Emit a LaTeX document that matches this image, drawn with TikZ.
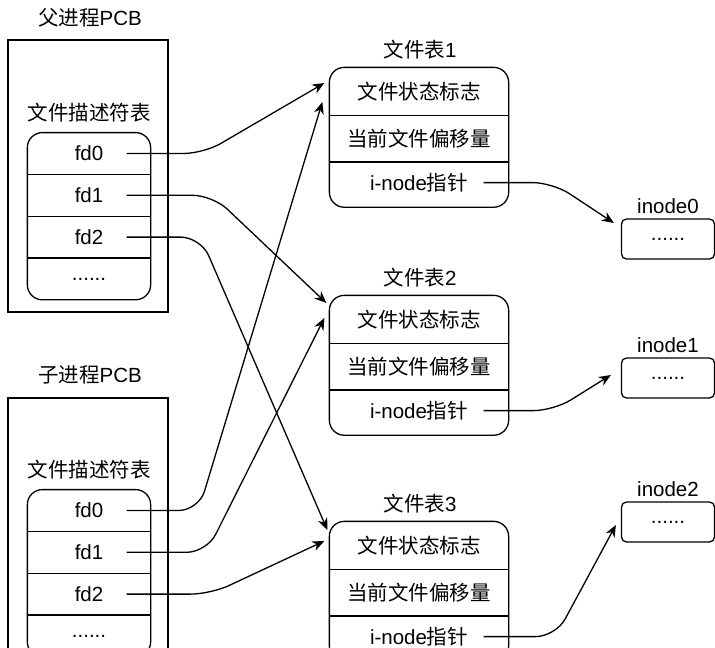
\documentclass[tikz,border=0pt]{standalone}
\usepackage{fontspec}
\setmainfont{Liberation Sans}
\newfontfamily\cjk{Noto Sans CJK SC}
\usetikzlibrary{positioning,arrows.meta}
\newcommand{\zh}[1]{{\cjk #1}}

\begin{document}
\begin{tikzpicture}[x=1pt, y=-1pt, line width=1.3pt,
    font=\fontsize{20.5}{24}\selectfont,
    pcbbox/.style={draw, minimum width=160pt, inner sep=0pt},
    fdrow/.style={minimum width=122pt, minimum height=40.5pt, inner sep=0pt},
    ftrow/.style={minimum width=178pt, inner sep=0pt},
    inodebox/.style={draw, rounded corners=5pt, minimum width=93pt, minimum height=40pt},
    link/.style={-{Stealth[length=12pt,width=10pt]}, rounded corners=20pt}]
    \useasboundingbox (0,0) rectangle (715,648);

    % Parent PCB
    \node[pcbbox, minimum height=272pt] (pcbp) at (88,176) {};
    \node (pcbplabel) at (90,18) {\zh{父进程}PCB};
    \node (fdtabp) at (89,113) {\zh{文件描述符表}};
    \node[fdrow] (fd0p) at (89,153.5) {fd0};
    \node[fdrow, below=0pt of fd0p] (fd1p) {fd1};
    \node[fdrow, below=0pt of fd1p] (fd2p) {fd2};
    \node[fdrow, below=0pt of fd2p] (fdxp) {......};
    \draw[rounded corners=15pt] (fd0p.north west) rectangle (fdxp.south east);
    \foreach \r in {fd0p,fd1p,fd2p}
        \draw (\r.south west) -- (\r.south east);

    % Child PCB
    \node[pcbbox, minimum height=302pt] (pcbc) at (88,549) {};
    \node (pcbclabel) at (90,375) {\zh{子进程}PCB};
    \node (fdtabc) at (89,470) {\zh{文件描述符表}};
    \node[fdrow] (fd0c) at (89,510.5) {fd0};
    \node[fdrow, below=0pt of fd0c] (fd1c) {fd1};
    \node[fdrow, below=0pt of fd1c] (fd2c) {fd2};
    \node[fdrow, below=0pt of fd2c] (fdxc) {......};
    \draw[rounded corners=15pt] (fd0c.north west) rectangle (fdxc.south east);
    \foreach \r in {fd0c,fd1c,fd2c}
        \draw (\r.south west) -- (\r.south east);

    % File tables
    \foreach \i/\y in {1/68, 2/296, 3/522} {
        \node (ftlabel\i) at (420,{\y-18}) {\zh{文件表}\i};
        \node[ftrow, minimum height=47pt] (fs\i) at (419,{\y+23.5}) {\zh{文件状态标志}};
        \node[ftrow, minimum height=45pt, below=0pt of fs\i] (fo\i) {\zh{当前文件偏移量}};
        \node[ftrow, minimum height=40pt, below=0pt of fo\i] (fp\i) {i-node\zh{指针}};
        \draw[rounded corners=15pt] (fs\i.north west) rectangle ([yshift=-4pt]fp\i.south east);
        \draw (fs\i.south west) -- (fs\i.south east);
        \draw (fo\i.south west) -- (fo\i.south east);
    }

    % inodes
    \foreach \i/\y in {0/239, 1/378, 2/522} {
        \node[inodebox] (ino\i) at (668,\y) {......};
        \node (inolabel\i) at (668,{\y-33}) {inode\i};
    }

    % parent fds -> file tables
    \draw[link] ([xshift=-24pt]fd0p.east) -- ++(77,0) -- ([xshift=-5pt,yshift=8.5pt]fs1.west);
    \draw[link] ([xshift=-24pt]fd1p.east) -- ++(86,0) -- ([xshift=-3pt,yshift=16.5pt]fs2.west);
    \draw[link] ([xshift=-24pt]fd2p.east) -- ++(74,0) -- ([xshift=-2pt,yshift=15.5pt]fs3.west);

    % child fds -> file tables
    \draw[link] ([xshift=-24pt]fd0c.east) -- ++(72,0) -- ([xshift=-7pt,yshift=-10.5pt]fs1.west);
    \draw[link] ([xshift=-24pt]fd1c.east) -- ++(80,0) -- ([xshift=-5pt,yshift=1.5pt]fs2.west);
    \draw[link] ([xshift=-24pt]fd2c.east) -- ++(84,0) -- ([xshift=-5pt,yshift=4.5pt]fs3.west);

    % i-node pointers
    \draw[link] ([xshift=-25pt]fp1.east) -- ++(69,0) -- ([xshift=-7pt,yshift=16pt]ino0.west);
    \draw[link] ([xshift=-25pt]fp2.east) -- ++(70,0) -- ([xshift=-10pt,yshift=3pt]ino1.west);
    \draw[link] ([xshift=-25pt]fp3.east) -- ++(72,0) -- ([xshift=-5pt,yshift=-3pt]ino2.west);
\end{tikzpicture}
\end{document}
